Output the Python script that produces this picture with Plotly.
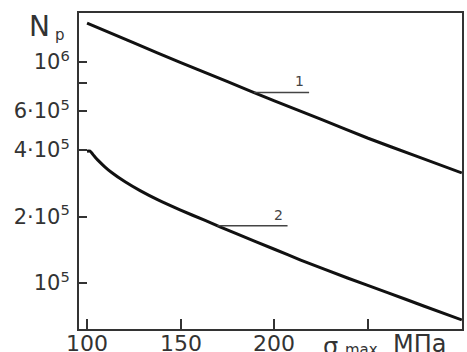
import numpy as np
import plotly.graph_objects as go

# Curve 1 (upper)
sigma1 = [100, 125, 150, 175, 200, 225, 250, 275, 300]
np1 = [1.50e6, 1.22e6, 9.95e5, 8.15e5, 6.67e5, 5.50e5, 4.52e5, 3.77e5, 3.15e5]

# Curve 2 (lower)
sigma2 = [100, 101.6, 103.7, 105.9, 109.6, 113.3, 120.3, 128.3, 137.9, 149.6, 163,
          180, 200, 214, 239, 260, 280, 300]
np2 = [3.95e5, 3.95e5, 3.767e5, 3.589e5, 3.350e5, 3.155e5, 2.871e5, 2.618e5, 2.377e5,
       2.143e5, 1.919e5, 1.667e5, 1.422e5, 1.271e5, 1.054e5, 9.08e4, 7.85e4, 6.81e4]

# Ticks
x_tickvals = [100, 150, 200, 250]
x_ticktext = ["100", "150", "200", ""]
y_tickvals = [1e5, 2e5, 4e5, 6e5, 8e5, 1e6]
y_ticktext = ["10<sup>5</sup>", "2·10<sup>5</sup>", "4·10<sup>5</sup>",
              "6·10<sup>5</sup>", "", "10<sup>6</sup>"]

# Curve labels: (curve, leader start sigma, leader end sigma, text)
labels = [(1, 189, 218.5, "1"), (2, 169.5, 207, "2")]

FONT = "DejaVu Sans, Verdana, sans-serif"
INK = "#111111"
AX = "#333333"

fig = go.Figure()
fig.add_trace(go.Scatter(x=sigma1, y=np1, mode="lines",
                         line=dict(color=INK, width=3, shape="spline", smoothing=0.5),
                         showlegend=False))
fig.add_trace(go.Scatter(x=sigma2, y=np2, mode="lines",
                         line=dict(color=INK, width=3, shape="spline", smoothing=0.5),
                         showlegend=False))


def interp_log(xs, ys, x0):
    return float(10 ** np.interp(x0, xs, np.log10(ys)))


for curve, s0, s1, txt in labels:
    xs, ys = (sigma1, np1) if curve == 1 else (sigma2, np2)
    yv = interp_log(xs, ys, s0)
    fig.add_shape(type="line", x0=s0, x1=s1, y0=yv, y1=yv, xref="x", yref="y",
                  line=dict(color="#444444", width=1.5))
    fig.add_annotation(x=s1 - 5, y=np.log10(yv), xref="x", yref="y", text=txt,
                       showarrow=False, yanchor="bottom", xanchor="center", yshift=1,
                       font=dict(family=FONT, size=14, color="#444444"))

# X tick labels (drawn just under the axis, as in the original)
for v, t in zip(x_tickvals, x_ticktext):
    if t:
        fig.add_annotation(x=v, y=0, xref="x", yref="paper", text=t, showarrow=False,
                           xanchor="center", yanchor="top", yshift=0,
                           font=dict(family=FONT, size=22, color=AX))

# Axis titles
fig.add_annotation(x=-0.0705, y=1.0, xref="paper", yref="paper", text="N",
                   showarrow=False, xanchor="right", yanchor="top", yshift=5,
                   font=dict(family=FONT, size=28, color=AX))
fig.add_annotation(x=-0.069, y=1.0, xref="paper", yref="paper", text="p",
                   showarrow=False, xanchor="left", yanchor="top", yshift=-11,
                   font=dict(family=FONT, size=15, color=AX))
fig.add_annotation(x=0.633, y=0, xref="paper", yref="paper", text="σ",
                   showarrow=False, xanchor="left", yanchor="top", yshift=-2,
                   font=dict(family=FONT, size=24, color=AX))
fig.add_annotation(x=0.690, y=0, xref="paper", yref="paper", text="max",
                   showarrow=False, xanchor="left", yanchor="top", yshift=-10,
                   font=dict(family=FONT, size=15, color=AX))
fig.add_annotation(x=0.815, y=0, xref="paper", yref="paper", text="МПа",
                   showarrow=False, xanchor="left", yanchor="top", yshift=1,
                   font=dict(family=FONT, size=24, color=AX))

fig.update_xaxes(range=[95.7, 300.1], tickvals=x_tickvals, showticklabels=False,
                 ticks="inside", ticklen=10, tickwidth=2, tickcolor=AX,
                 showline=True, linewidth=2, linecolor=AX, mirror=True,
                 showgrid=False, zeroline=False, automargin=False)
fig.update_yaxes(type="log", range=[4.792, 6.222], tickvals=y_tickvals, ticktext=y_ticktext,
                 ticks="inside", ticklen=8, tickwidth=2, tickcolor=AX,
                 showline=True, linewidth=2, linecolor=AX, mirror=True,
                 showgrid=False, zeroline=False, automargin=False,
                 ticklabelstandoff=3,
                 tickfont=dict(family=FONT, size=21, color=AX))

fig.update_layout(width=467, height=352, margin=dict(l=79, r=5, t=13, b=23, autoexpand=False),
                  plot_bgcolor="white", paper_bgcolor="white")

fig.write_html("out.html", config={"displayModeBar": False},
               post_script="document.body.style.margin='0';document.body.style.padding='0';"
                           "document.body.style.overflow='hidden';")
